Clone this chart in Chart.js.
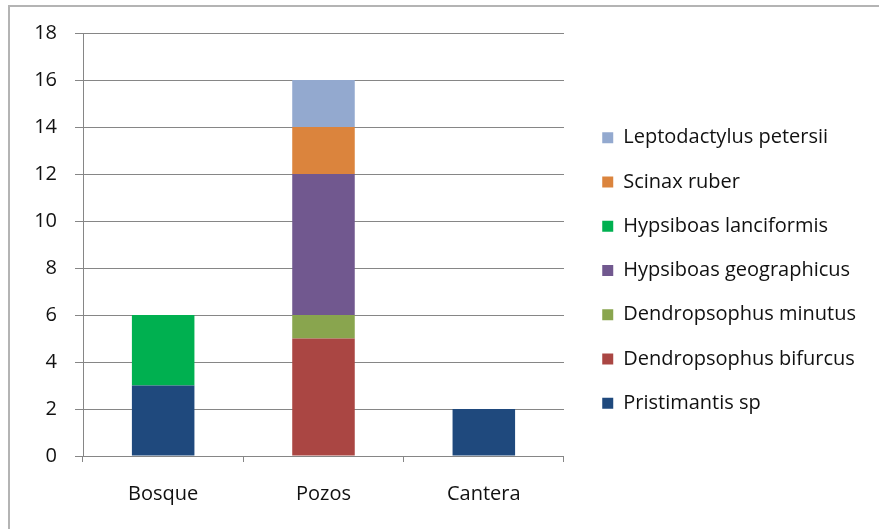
<!DOCTYPE html>
<html>
<head>
<meta charset="utf-8">
<script src="https://cdn.jsdelivr.net/npm/chart.js@4"></script>
<style>
    body { margin: 0; background: #fff; }
    #wrap { position: relative; width: 879px; height: 529px; overflow: hidden; }
    #frame { position: absolute; left: 8px; top: 5px; width: 1000px; height: 1000px; border: 2px solid #b4b4b4; box-sizing: border-box; }
    #chart { position: absolute; left: 0; top: 0; }
</style>
</head>
<body>
<div id="wrap">
    <div id="frame"></div>
    <canvas id="chart" width="879" height="529"></canvas>
</div>
<script>
// Sites
const sites = ['Bosque', 'Pozos', 'Cantera'];

// Species names (bottom of stack first)
const species = [
    'Pristimantis sp',
    'Dendropsophus bifurcus',
    'Dendropsophus minutus',
    'Hypsiboas geographicus',
    'Hypsiboas lanciformis',
    'Scinax ruber',
    'Leptodactylus petersii'
];

// Counts per site, same order as species
const pristimantis = [3, 0, 2];
const dBifurcus = [0, 5, 0];
const dMinutus = [0, 1, 0];
const hGeographicus = [0, 6, 0];
const hLanciformis = [3, 0, 0];
const scinaxRuber = [0, 2, 0];
const leptodactylus = [0, 2, 0];

const counts = [pristimantis, dBifurcus, dMinutus, hGeographicus, hLanciformis, scinaxRuber, leptodactylus];
const colors = ['#1F497D', '#AA4643', '#89A54E', '#71588F', '#00B050', '#DB843D', '#93A9CF'];

// Y axis ticks
const yTicks = [0, 2, 4, 6, 8, 10, 12, 14, 16, 18];

const font = "'Open Sans', Lato, sans-serif";
const fontSize = 20;
const gridColor = '#868686';

// legend sizing so the plot ends where it should
const legendPad = 24.25;
const gapWidth = 14;
const plotRight = 563;
const ctx = document.getElementById('chart').getContext('2d');
ctx.font = fontSize + 'px ' + font;
const longest = Math.max(...species.map(s => ctx.measureText(s).width));
const legendWidth = Math.ceil(legendPad + 11 + fontSize / 2 + longest + 10);
const rightPad = Math.max(0, 879 - plotRight - gapWidth - legendWidth);

new Chart(ctx, {
    type: 'bar',
    data: {
        labels: sites,
        datasets: species.map((name, i) => ({
            label: name,
            data: counts[i],
            backgroundColor: colors[i],
            borderWidth: 0,
            categoryPercentage: 1,
            barPercentage: 0.39
        }))
    },
    options: {
        responsive: false,
        animation: false,
        devicePixelRatio: 1,
        layout: { padding: { top: 33, bottom: 21, left: 0, right: rightPad } },
        plugins: {
            tooltip: { enabled: false },
            legend: {
                position: 'right',
                reverse: true,
                maxWidth: legendWidth,
                labels: {
                    boxWidth: 11,
                    boxHeight: 11,
                    padding: legendPad,
                    color: '#111',
                    font: { family: font, size: fontSize }
                }
            }
        },
        scales: {
            x: {
                stacked: true,
                offset: true,
                afterFit: s => { s.height = 52; },
                grid: { drawOnChartArea: false, drawTicks: true, tickLength: 6, color: gridColor, offset: true },
                border: { color: gridColor, width: 1 },
                ticks: { color: '#111', padding: 20, font: { family: font, size: fontSize } }
            },
            y: {
                stacked: true,
                min: 0,
                max: 18,
                afterFit: s => { s.width = 83; },
                afterBuildTicks: s => { s.ticks = yTicks.map(v => ({ value: v })); },
                grid: { color: gridColor, tickLength: 8, lineWidth: 1 },
                border: { color: gridColor, width: 1 },
                ticks: { color: '#111', padding: 18, font: { family: font, size: fontSize } }
            },
            // empty spacer between plot and legend
            gap: {
                type: 'linear',
                position: 'right',
                display: true,
                afterFit: s => { s.width = gapWidth; },
                grid: { display: false },
                border: { display: false },
                ticks: { display: false }
            }
        }
    }
});
</script>
</body>
</html>
